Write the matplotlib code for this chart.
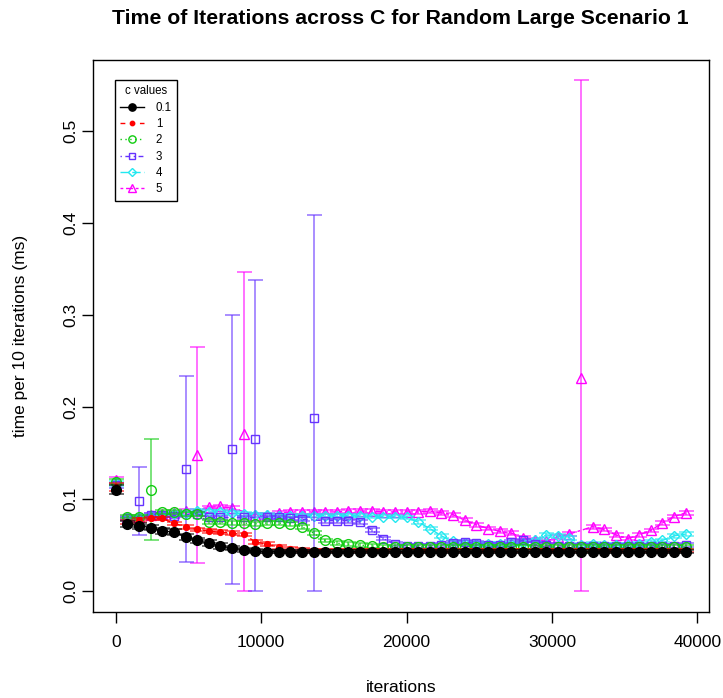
import matplotlib
matplotlib.use("Agg")
import matplotlib.pyplot as plt
from matplotlib.lines import Line2D
import numpy as np

plt.rcParams['font.family'] = ['Liberation Sans', 'DejaVu Sans']

# ---------------- data ----------------
c_labels = ["0.1", "1", "2", "3", "4", "5"]

iterations = [0, 800, 1600, 2400, 3200, 4000, 4800, 5600, 6400, 7200,
              8000, 8800, 9600, 10400, 11200, 12000, 12800, 13600, 14400, 15200,
              16000, 16800, 17600, 18400, 19200, 20000, 20800, 21600, 22400, 23200,
              24000, 24800, 25600, 26400, 27200, 28000, 28800, 29600, 30400, 31200,
              32000, 32800, 33600, 34400, 35200, 36000, 36800, 37600, 38400, 39200]

mean_c01 = [0.110,
            0.073, 0.071, 0.069, 0.0655, 0.064, 0.059, 0.055, 0.052, 0.049, 0.0465,
            0.045, 0.0435, 0.043, 0.043, 0.043, 0.043, 0.043, 0.043, 0.043, 0.043,
            0.043, 0.043, 0.043, 0.043, 0.043, 0.043, 0.043, 0.043, 0.043, 0.043,
            0.043, 0.043, 0.043, 0.043, 0.043, 0.043, 0.043, 0.043, 0.043, 0.043,
            0.043, 0.043, 0.043, 0.043, 0.043, 0.043, 0.043, 0.043, 0.043]
mean_c1 = [0.113,
           0.075, 0.077, 0.079, 0.079, 0.0735, 0.070, 0.067, 0.065, 0.064, 0.063,
           0.0615, 0.0535, 0.051, 0.048, 0.046, 0.045, 0.044, 0.044, 0.044, 0.044,
           0.044, 0.044, 0.044, 0.044, 0.044, 0.044, 0.044, 0.044, 0.044, 0.044,
           0.044, 0.044, 0.044, 0.044, 0.044, 0.044, 0.044, 0.044, 0.044, 0.044,
           0.044, 0.044, 0.044, 0.044, 0.044, 0.044, 0.044, 0.044, 0.044]
mean_c2 = [0.119,
           0.081, 0.081, 0.110, 0.086, 0.086, 0.084, 0.084, 0.075, 0.075, 0.074,
           0.074, 0.073, 0.074, 0.074, 0.073, 0.070, 0.063, 0.055, 0.052, 0.051,
           0.050, 0.049, 0.048, 0.048, 0.048, 0.048, 0.048, 0.048, 0.048, 0.048,
           0.048, 0.048, 0.048, 0.048, 0.048, 0.048, 0.048, 0.048, 0.048, 0.048,
           0.048, 0.048, 0.048, 0.048, 0.048, 0.048, 0.048, 0.048, 0.048]
mean_c3 = [0.115,
           0.079, 0.098, 0.083, 0.083, 0.082, 0.133, 0.084, 0.080, 0.080, 0.154,
           0.080, 0.165, 0.080, 0.080, 0.079, 0.078, 0.188, 0.0765, 0.0765, 0.0765,
           0.075, 0.0665, 0.057, 0.051, 0.049, 0.049, 0.049, 0.050, 0.052, 0.053,
           0.052, 0.050, 0.050, 0.053, 0.055, 0.051, 0.050, 0.049, 0.049, 0.049,
           0.049, 0.049, 0.049, 0.049, 0.049, 0.049, 0.049, 0.049, 0.050]
mean_c4 = [0.117,
           0.079, 0.080, 0.082, 0.083, 0.084, 0.085, 0.087, 0.086, 0.086, 0.085,
           0.084, 0.083, 0.083, 0.082, 0.082, 0.082, 0.082, 0.082, 0.082, 0.082,
           0.082, 0.081, 0.081, 0.081, 0.080, 0.075, 0.068, 0.060, 0.054, 0.052,
           0.051, 0.051, 0.051, 0.051, 0.052, 0.055, 0.061, 0.060, 0.058, 0.050,
           0.051, 0.050, 0.050, 0.050, 0.051, 0.053, 0.055, 0.060, 0.062]
mean_c5 = [0.121,
           0.080, 0.081, 0.083, 0.084, 0.085, 0.087, 0.148, 0.091, 0.092, 0.090,
           0.171, 0.083, 0.083, 0.085, 0.086, 0.086, 0.086, 0.086, 0.086, 0.087,
           0.087, 0.087, 0.086, 0.086, 0.086, 0.086, 0.087, 0.085, 0.083, 0.077,
           0.072, 0.068, 0.065, 0.063, 0.058, 0.056, 0.054, 0.059, 0.062, 0.2315,
           0.070, 0.067, 0.061, 0.057, 0.061, 0.066, 0.074, 0.081, 0.085]

sd_c01 = [0.005,
          0.003, 0.003, 0.003, 0.003, 0.003, 0.003, 0.003, 0.003, 0.003, 0.002,
          0.002, 0.002, 0.002, 0.002, 0.002, 0.002, 0.002, 0.002, 0.002, 0.002,
          0.002, 0.002, 0.002, 0.002, 0.002, 0.002, 0.002, 0.002, 0.002, 0.002,
          0.002, 0.002, 0.002, 0.002, 0.002, 0.002, 0.002, 0.002, 0.002, 0.002,
          0.002, 0.002, 0.002, 0.002, 0.002, 0.002, 0.002, 0.002, 0.002]
sd_c1 = [0.004,
         0.002, 0.002, 0.002, 0.002, 0.002, 0.002, 0.002, 0.002, 0.002, 0.002,
         0.002, 0.002, 0.002, 0.002, 0.002, 0.002, 0.002, 0.002, 0.002, 0.002,
         0.002, 0.002, 0.002, 0.002, 0.002, 0.002, 0.002, 0.002, 0.002, 0.002,
         0.002, 0.002, 0.002, 0.002, 0.002, 0.002, 0.002, 0.002, 0.002, 0.002,
         0.002, 0.002, 0.002, 0.002, 0.002, 0.002, 0.002, 0.002, 0.002]
sd_c2 = [0.003,
         0.002, 0.002, 0.055, 0.002, 0.002, 0.002, 0.002, 0.002, 0.002, 0.002,
         0.002, 0.002, 0.002, 0.002, 0.002, 0.002, 0.002, 0.002, 0.002, 0.002,
         0.002, 0.002, 0.002, 0.002, 0.002, 0.002, 0.002, 0.002, 0.002, 0.002,
         0.002, 0.002, 0.002, 0.002, 0.002, 0.002, 0.002, 0.002, 0.002, 0.002,
         0.002, 0.002, 0.002, 0.002, 0.002, 0.002, 0.002, 0.002, 0.002]
sd_c3 = [0.003,
         0.002, 0.037, 0.002, 0.002, 0.002, 0.101, 0.002, 0.002, 0.002, 0.146,
         0.002, 0.173, 0.002, 0.002, 0.002, 0.002, 0.221, 0.002, 0.002, 0.002,
         0.002, 0.002, 0.002, 0.002, 0.002, 0.002, 0.002, 0.002, 0.002, 0.002,
         0.002, 0.002, 0.002, 0.002, 0.002, 0.002, 0.002, 0.002, 0.002, 0.002,
         0.002, 0.002, 0.002, 0.002, 0.002, 0.002, 0.002, 0.002, 0.002]
sd_c4 = [0.003,
         0.002, 0.002, 0.002, 0.002, 0.002, 0.002, 0.002, 0.002, 0.002, 0.002,
         0.002, 0.002, 0.002, 0.002, 0.002, 0.002, 0.002, 0.002, 0.002, 0.002,
         0.002, 0.002, 0.002, 0.002, 0.002, 0.002, 0.002, 0.002, 0.002, 0.002,
         0.002, 0.002, 0.002, 0.002, 0.002, 0.002, 0.002, 0.002, 0.002, 0.002,
         0.002, 0.002, 0.002, 0.002, 0.002, 0.002, 0.002, 0.002, 0.002]
sd_c5 = [0.003,
         0.002, 0.002, 0.002, 0.002, 0.002, 0.002, 0.117, 0.002, 0.002, 0.002,
         0.176, 0.002, 0.002, 0.002, 0.002, 0.002, 0.002, 0.002, 0.002, 0.002,
         0.002, 0.002, 0.002, 0.002, 0.002, 0.002, 0.002, 0.002, 0.002, 0.002,
         0.002, 0.002, 0.002, 0.002, 0.002, 0.002, 0.002, 0.002, 0.002, 0.3235,
         0.002, 0.002, 0.002, 0.002, 0.002, 0.002, 0.002, 0.002, 0.002]

x_ticks = [0, 10000, 20000, 30000, 40000]
y_ticks = [0.0, 0.1, 0.2, 0.3, 0.4, 0.5]
y_tick_labels = ["0.0", "0.1", "0.2", "0.3", "0.4", "0.5"]

title = "Time of Iterations across C for Random Large Scenario 1"
x_label = "iterations"
y_label = "time per 10 iterations (ms)"
legend_title = "c values"

# ---------------- styles ----------------
means = [mean_c01, mean_c1, mean_c2, mean_c3, mean_c4, mean_c5]
sds = [sd_c01, sd_c1, sd_c2, sd_c3, sd_c4, sd_c5]
colors = ["#000000", "#FF0000", "#11CC11", "#6633FF", "#22E8F0", "#FF00FF"]
markers = ["o", "o", "o", "s", "D", "^"]
msizes = [7.0, 4.2, 7.0, 6.2, 5.6, 7.4]
mfcs = ["#000000", "#FF0000", "none", "none", "none", "none"]
dashes = [None, (3.5, 3.5), (1, 2.5), (1, 2.5, 3.5, 2.5), (6, 2.5), (2, 2, 5, 2)]

W, H = 723, 698
fig = plt.figure(figsize=(W / 100, H / 100), dpi=100)
left_px, right_px, top_px, bottom_px = 93, 708.5, 60, 611.5
ax = fig.add_axes([left_px / W, 1 - bottom_px / H,
                   (right_px - left_px) / W, (bottom_px - top_px) / H])

x = np.array(iterations, dtype=float)
order = [5, 4, 3, 2, 1, 0]
for z, i in enumerate(order):
    m = np.array(means[i])
    s = np.array(sds[i])
    lo = m - np.maximum(0.0, m - s)
    hi = s
    col = colors[i]
    # the connecting line runs through the regular points (not the initial
    # point nor the highly variable ones)
    reg = np.arange(len(m)) >= 1
    reg &= s < 0.02
    ln, = ax.plot(x[reg], m[reg], color=col, lw=1.0, zorder=3 + z * 3)
    if dashes[i] is not None:
        ln.set_dashes(dashes[i])
    # all markers
    ax.plot(x, m, linestyle="none", marker=markers[i], ms=msizes[i],
            mfc=mfcs[i], mec=col, mew=1.0, zorder=3 + z * 3)
    # error bars
    ax.errorbar(x, m, yerr=[lo, hi], fmt="none", ecolor=col, alpha=0.65,
                elinewidth=1.2, capsize=5.4, capthick=1.2, zorder=2 + z * 3)

ax.set_xlim(-1568, 40768)
ax.set_ylim(-0.0222, 0.5772)
ax.set_xticks(x_ticks)
ax.set_xticklabels([str(t) for t in x_ticks])
ax.set_yticks(y_ticks)
ax.set_yticklabels(y_tick_labels, rotation=90, va="center")
ax.tick_params(axis="both", direction="out", length=8, width=1, labelsize=12.5,
               color="#000000")
ax.tick_params(axis="x", pad=9)
ax.tick_params(axis="y", pad=2.5)
for sp in ax.spines.values():
    sp.set_linewidth(1.0)
    sp.set_color("#000000")

cx = (left_px + right_px) / 2 / W
fig.text(cx, 1 - 19 / H, title, ha="center", va="center", fontsize=15.3,
         fontweight="bold")
fig.text(cx, 1 - 687 / H, x_label, ha="center", va="center", fontsize=12.5)
fig.text(21 / W, 1 - ((top_px + bottom_px) / 2) / H, y_label, ha="center",
         va="center", rotation=90, fontsize=12.5)

# legend
handles = []
for i in range(6):
    h = Line2D([0], [0], color=colors[i], lw=1.0, marker=markers[i],
               ms=msizes[i] * 0.75, mfc=mfcs[i], mec=colors[i], mew=1.0)
    if dashes[i] is not None:
        h.set_dashes(dashes[i])
    handles.append(h)
leg = ax.legend(handles, c_labels, title=legend_title, loc="upper left",
                bbox_to_anchor=(115 / W, 1 - 80 / H),
                bbox_transform=fig.transFigure, borderaxespad=0,
                fontsize=8.3, title_fontsize=8.3, fancybox=False,
                edgecolor="#000000", framealpha=1, handlelength=2.1,
                handletextpad=1.0, labelspacing=0.38, borderpad=0.45,
                numpoints=1, alignment="center")
leg.get_frame().set_linewidth(1.0)
leg.set_zorder(50)

fig.savefig("out.png", dpi=100)
